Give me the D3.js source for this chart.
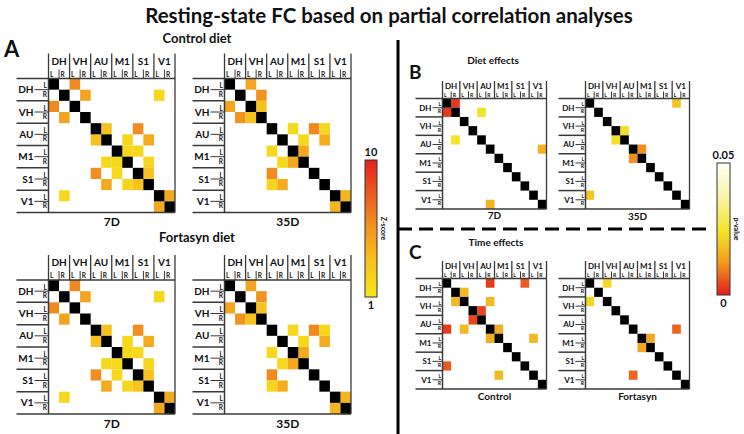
<!DOCTYPE html>
<html><head><meta charset="utf-8">
<script src="https://cdn.jsdelivr.net/npm/d3@7"></script>
<style>
body{margin:0;background:#fff}
svg{display:block}
text{font-family:Lato,"Liberation Sans",sans-serif;font-weight:bold;fill:#111}
</style>
</head><body><svg id="c" width="744" height="434"></svg>
<script>
const regions = ["DH","VH","AU","M1","S1","V1"];
const hemis = ["L","R"];
const zTicks = [1, 10];
const pTicks = [0, 0.05];

// Each matrix is symmetric: [node, node, value]
const controlZ7D = [
  ["DH-L","VH-L",6.0],["DH-R","VH-R",4.8],["DH-R","V1-L",2.0],
  ["AU-L","AU-R",3.4],["AU-L","S1-L",5.8],["AU-R","M1-R",2.0],["AU-R","S1-R",4.5],
  ["M1-L","M1-R",2.0],["M1-L","S1-L",2.0],["M1-R","S1-R",2.2],["S1-L","S1-R",3.3],
  ["V1-L","V1-R",4.6]
];
const controlZ35D = [
  ["DH-L","VH-L",4.8],["DH-R","VH-R",5.6],["VH-L","VH-R",3.4],
  ["AU-L","M1-L",2.0],["AU-L","S1-L",6.0],["AU-L","S1-R",2.2],["AU-R","M1-R",2.0],
  ["AU-R","S1-R",4.4],["M1-L","M1-R",4.6],["V1-L","V1-R",4.0]
];
const fortasynZ7D = [
  ["DH-L","VH-L",6.0],["DH-R","VH-R",4.8],["DH-R","V1-L",2.0],
  ["AU-L","AU-R",3.4],["AU-L","S1-L",5.8],["AU-R","M1-R",2.0],["AU-R","S1-R",4.5],
  ["M1-L","M1-R",2.0],["M1-L","S1-L",2.0],["M1-R","S1-R",2.2],["S1-L","S1-R",3.3],
  ["V1-L","V1-R",4.6]
];
const fortasynZ35D = [
  ["DH-L","VH-L",4.8],["DH-R","VH-R",5.6],["VH-L","VH-R",3.4],
  ["AU-L","M1-L",2.0],["AU-L","S1-L",6.0],["AU-L","S1-R",2.2],["AU-R","M1-R",2.0],
  ["AU-R","S1-R",4.4],["M1-L","M1-R",4.6],["V1-L","V1-R",4.0]
];
const dietP7D = [
  ["DH-L","DH-R",0.003],["DH-R","AU-L",0.024],["AU-R","V1-R",0.016]
];
const dietP35D = [
  ["DH-L","V1-L",0.019],["VH-R","AU-L",0.023],["AU-R","M1-L",0.011]
];
const timePControl = [
  ["DH-L","AU-R",0.003],["DH-L","S1-R",0.006],["DH-R","VH-L",0.017],["VH-L","AU-R",0.017],
  ["VH-R","AU-L",0.004],["AU-R","M1-L",0.015],["M1-L","V1-L",0.017]
];
const timePFortasyn = [
  ["DH-L","VH-L",0.022],["AU-R","V1-L",0.007],["M1-L","M1-R",0.014]
];

const nodes = regions.flatMap(r => hemis.map(h => r + "-" + h));
const zColor = d3.scaleLinear().domain([1, 3.5, 6, 10]).range(["#f5e81c","#f8c01e","#f08a1f","#e4201f"]);
const pColor = d3.scaleLinear().domain([0, 0.012, 0.024, 0.037, 0.05]).range(["#e31a1c","#f39a1f","#f3e526","#f8f4a8","#fffff5"]);

const svg = d3.select("#c");
const defs = svg.append("defs");

const big = {grp:10, sub:6.5, colLab:14, colExt:25, subExt:9, rowLab:15, rowExt:32, lab:12};
const small = {grp:8, sub:5, colLab:10, colExt:17.5, subExt:7, rowLab:11, rowExt:27, lab:10};

function drawMatrix(cfg) {
  const {x, y, w, h, edges, color, label, labelY, s} = cfg;
  const xs = d3.scaleBand().domain(nodes).range([x, x + w]);
  const ys = d3.scaleBand().domain(nodes).range([y, y + h]);
  const g = svg.append("g");
  const cells = [];
  edges.forEach(([a, b, v]) => { cells.push({r:a, c:b, v}); cells.push({r:b, c:a, v}); });
  g.selectAll("rect.cell").data(cells).join("rect").attr("class","cell")
    .attr("x", d => xs(d.c)).attr("y", d => ys(d.r))
    .attr("width", xs.bandwidth()).attr("height", ys.bandwidth())
    .attr("fill", d => color(d.v));
  g.selectAll("rect.diag").data(nodes).join("rect").attr("class","diag")
    .attr("x", d => xs(d)).attr("y", d => ys(d))
    .attr("width", xs.bandwidth()).attr("height", ys.bandwidth())
    .attr("fill", "#000");
  const line = (x1, y1, x2, y2, sw) => g.append("line").attr("x1",x1).attr("y1",y1).attr("x2",x2).attr("y2",y2)
    .attr("stroke","#3a3a3a").attr("stroke-width", sw);
  regions.forEach(r => {
    const gx = xs(r + "-L"), rx = xs(r + "-R");
    line(gx, y - s.colExt, gx, y, 1.3);
    line(rx, y - s.subExt, rx, y, 1);
    g.append("text").attr("x", rx).attr("y", y - s.colLab).attr("text-anchor","middle")
      .attr("font-size", s.grp).text(r);
    hemis.forEach(hh => {
      g.append("text").attr("x", xs(r + "-" + hh) + 1.5).attr("y", y - 2)
        .attr("font-size", s.sub).text(hh);
    });
    const gy = ys(r + "-L"), ry = ys(r + "-R");
    line(x - s.rowExt, gy, x, gy, 1.5);
    line(x - s.rowLab + 1, ry, x, ry, 1);
    g.append("text").attr("x", x - s.rowLab).attr("y", ry).attr("dy","0.35em")
      .attr("text-anchor","end").attr("font-size", s.grp).text(r);
    g.append("text").attr("x", x - 1.5).attr("y", ry - 1.5).attr("text-anchor","end")
      .attr("font-size", s.sub).text("L");
    g.append("text").attr("x", x - 1.5).attr("y", ry + s.sub + 0.5).attr("text-anchor","end")
      .attr("font-size", s.sub).text("R");
  });
  line(x + w, y - s.colExt, x + w, y + h, 1.3);
  line(x - s.rowExt, y + h, x + w, y + h, 1.5);
  line(x, y, x + w, y, 1.5);
  line(x, y, x, y + h, 1.5);
  g.append("text").attr("x", x + w / 2).attr("y", labelY).attr("text-anchor","middle")
    .attr("font-size", s.lab).text(label);
}

function colorBar(cfg) {
  const {id, x, y, w, h, color, ticks, title, fmt} = cfg;
  const dom = color.domain();
  const lo = d3.min(dom), hi = d3.max(dom);
  const grad = defs.append("linearGradient").attr("id", id)
    .attr("x1","0").attr("y1","1").attr("x2","0").attr("y2","0");
  d3.range(0, 1.0001, 0.05).forEach(t => {
    grad.append("stop").attr("offset", t).attr("stop-color", color(lo + t * (hi - lo)));
  });
  const sc = d3.scaleLinear().domain([lo, hi]).range([y + h, y]);
  svg.append("rect").attr("x", x).attr("y", y).attr("width", w).attr("height", h)
    .attr("fill", `url(#${id})`).attr("stroke","#333").attr("stroke-width",1);
  ticks.forEach(t => {
    const ty = sc(t);
    svg.append("text").attr("x", x + w / 2).attr("y", t === hi ? ty - 4 : ty + 12)
      .attr("text-anchor","middle").attr("font-size", 11).attr("font-weight","normal").text(fmt(t));
  });
  svg.append("text").attr("transform", `translate(${x + w + 4},${y + h / 2}) rotate(90)`)
    .attr("text-anchor","middle").attr("font-size", 7).text(title);
}

// Titles
svg.append("text").attr("x", 389).attr("y", 23).attr("text-anchor","middle").attr("font-size", 20.5)
  .text("Resting-state FC based on partial correlation analyses");
svg.append("text").attr("x", 4).attr("y", 57).attr("font-size", 22).text("A");
svg.append("text").attr("x", 409).attr("y", 79).attr("font-size", 19).text("B");
svg.append("text").attr("x", 409).attr("y", 259).attr("font-size", 19).text("C");
svg.append("text").attr("x", 197).attr("y", 43).attr("text-anchor","middle").attr("font-size", 13).text("Control diet");
svg.append("text").attr("x", 197).attr("y", 242).attr("text-anchor","middle").attr("font-size", 13).text("Fortasyn diet");
svg.append("text").attr("x", 493).attr("y", 64).attr("text-anchor","middle").attr("font-size", 10).text("Diet effects");
svg.append("text").attr("x", 496).attr("y", 246).attr("text-anchor","middle").attr("font-size", 10).text("Time effects");

drawMatrix({x:48.5, y:78.5, w:126.5, h:134, edges:controlZ7D, color:zColor, label:"7D", labelY:226, s:big});
drawMatrix({x:224.5, y:78.5, w:126.5, h:134, edges:controlZ35D, color:zColor, label:"35D", labelY:226, s:big});
drawMatrix({x:48.5, y:280, w:126.5, h:134, edges:fortasynZ7D, color:zColor, label:"7D", labelY:428, s:big});
drawMatrix({x:224.5, y:280, w:126.5, h:134, edges:fortasynZ35D, color:zColor, label:"35D", labelY:428, s:big});

drawMatrix({x:442.5, y:98.5, w:104, h:110.5, edges:dietP7D, color:pColor, label:"7D", labelY:219, s:small});
drawMatrix({x:585.5, y:98.5, w:104, h:110.5, edges:dietP35D, color:pColor, label:"35D", labelY:220, s:small});
drawMatrix({x:442.5, y:278.5, w:104, h:110.5, edges:timePControl, color:pColor, label:"Control", labelY:400, s:small});
drawMatrix({x:585.5, y:278.5, w:104, h:110.5, edges:timePFortasyn, color:pColor, label:"Fortasyn", labelY:400, s:small});

// separators
svg.append("line").attr("x1",398).attr("y1",40).attr("x2",398).attr("y2",434).attr("stroke","#000").attr("stroke-width",3);
svg.append("line").attr("x1",398).attr("y1",229).attr("x2",706).attr("y2",229).attr("stroke","#000")
  .attr("stroke-width",3).attr("stroke-dasharray","14,7");

colorBar({id:"zg", x:365, y:160, w:12, h:137, color:zColor, ticks:zTicks, title:"Z-score", fmt:d => d});
colorBar({id:"pg", x:717, y:163, w:13, h:132, color:pColor, ticks:pTicks, title:"p-value", fmt:d => d});
</script>
</body></html>
